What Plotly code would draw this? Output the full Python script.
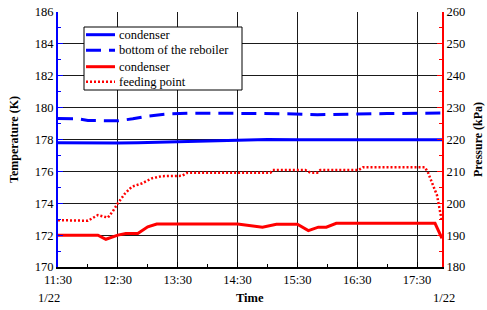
import plotly.graph_objects as go

DAY = "2024-01-22 "

# Blue: temperatures (left axis, K)
t_cond = ["11:30", "11:50", "12:10", "12:30", "12:50", "13:10", "13:30", "14:00", "14:30",
          "15:00", "15:30", "16:00", "16:30", "17:00", "17:30", "17:55"]
temp_cond = [177.80, 177.78, 177.77, 177.78, 177.80, 177.83, 177.88, 177.93, 177.97,
             178.00, 177.98, 177.97, 177.97, 177.98, 177.99, 177.98]

t_reb = ["11:30", "11:50", "12:00", "12:20", "12:30", "12:45", "13:00", "13:20", "13:40",
         "14:30", "15:20", "15:50", "16:20", "17:00", "17:55"]
temp_reb = [179.32, 179.30, 179.20, 179.18, 179.17, 179.30, 179.47, 179.60, 179.64,
            179.64, 179.62, 179.56, 179.60, 179.63, 179.66]

# Red: pressures (right axis, kPa)
t_pcond = ["11:30", "12:10", "12:18", "12:30", "12:38", "12:50", "13:00", "13:09", "13:30",
           "14:30", "14:55", "15:09", "15:30", "15:41", "15:51", "15:59", "16:09", "17:00",
           "17:48", "17:55"]
p_cond = [190.0, 190.0, 188.7, 190.0, 190.5, 190.5, 192.6, 193.5, 193.5,
          193.5, 192.5, 193.4, 193.4, 191.4, 192.5, 192.5, 193.7, 193.7,
          193.7, 189.0]

t_feed = ["11:30", "12:00", "12:10", "12:20", "12:25", "12:30", "12:37", "12:44", "12:54",
          "13:04", "13:14", "13:34", "13:40", "15:03", "15:05", "15:38", "15:43", "15:50",
          "15:53", "16:31", "16:36", "17:38", "17:41", "17:45", "17:50", "17:55"]
p_feed = [194.7, 194.5, 196.3, 195.5, 197.5, 200.0, 203.0, 205.2, 206.2,
          207.8, 208.5, 208.6, 209.6, 209.6, 210.4, 210.4, 209.6, 209.6,
          210.4, 210.4, 211.3, 211.3, 209.6, 206.2, 202.5, 194.2]

legend_names = ["condenser", "bottom of the reboiler", "condenser", "feeding point"]

SERIF = "Liberation Serif"
BLUE, RED = "#0000ff", "#ff0000"
styles = [
    dict(color=BLUE, width=3),
    dict(color=BLUE, width=3, dash="15px,8px"),
    dict(color=RED, width=3),
    dict(color=RED, width=2.5, dash="2px,2px"),
]

fig = go.Figure()
fig.add_trace(go.Scatter(x=[DAY + t for t in t_cond], y=temp_cond, mode="lines",
                         name=legend_names[0], line=styles[0]))
fig.add_trace(go.Scatter(x=[DAY + t for t in t_reb], y=temp_reb, mode="lines",
                         name=legend_names[1], line=styles[1]))
fig.add_trace(go.Scatter(x=[DAY + t for t in t_pcond], y=p_cond, mode="lines", yaxis="y2",
                         name=legend_names[2], line=styles[2]))
fig.add_trace(go.Scatter(x=[DAY + t for t in t_feed], y=p_feed, mode="lines", yaxis="y2",
                         name=legend_names[3], line=styles[3]))

# Compact legend box (drawn in paper coordinates)
PL, PR, PT, PB = 58, 442, 12, 267
def px(x):
    return (x - PL) / (PR - PL)
def py(y):
    return (PB - y) / (PB - PT)

shapes = [dict(type="rect", xref="paper", yref="paper", x0=px(84), x1=px(242),
               y0=py(90), y1=py(27), line=dict(color="black", width=1),
               fillcolor="white", layer="above")]
annotations = []
row_y = [34.7, 50.2, 66.7, 81.7]
for name, st, ry in zip(legend_names, styles, row_y):
    shapes.append(dict(type="line", xref="paper", yref="paper", x0=px(86), x1=px(115),
                       y0=py(ry), y1=py(ry), line=st, layer="above"))
    annotations.append(dict(text=name, xref="paper", yref="paper", x=px(117), y=py(ry),
                            xanchor="left", yanchor="middle", showarrow=False,
                            font=dict(family=SERIF, size=12.5)))

annotations += [
    dict(text="1/22", xref="paper", yref="paper", x=px(49), y=0, yshift=-31,
         xanchor="center", yanchor="middle", showarrow=False,
         font=dict(family=SERIF, size=12.5)),
    dict(text="1/22", xref="paper", yref="paper", x=px(444), y=0, yshift=-31,
         xanchor="center", yanchor="middle", showarrow=False,
         font=dict(family=SERIF, size=12.5)),
    dict(text="<b>Time</b>", xref="paper", yref="paper", x=0.5, y=0, yshift=-31,
         xanchor="center", yanchor="middle", showarrow=False,
         font=dict(family=SERIF, size=12.5)),
]

fig.update_layout(
    width=487, height=310,
    margin=dict(l=58, r=45, t=12, b=43, pad=0, autoexpand=False),
    plot_bgcolor="white", paper_bgcolor="white",
    font=dict(family=SERIF, size=12, color="black"),
    showlegend=False,
    xaxis=dict(
        type="date", range=[DAY + "11:30", DAY + "17:55"], automargin=False,
        tickformat="%H:%M", dtick=3600000, tick0=DAY + "11:30",
        showgrid=True, gridcolor="#1a1a1a", gridwidth=1,
        ticks="inside", ticklen=5, tickcolor="black",
        minor=dict(dtick=1800000, ticks="inside", ticklen=3, tickcolor="black", showgrid=False),
        showline=True, linecolor="black", linewidth=2,
        tickfont=dict(family=SERIF, size=12.5), zeroline=False,
    ),
    yaxis=dict(
        range=[170, 186], dtick=2, showgrid=True, gridcolor="#1a1a1a", gridwidth=1,
        automargin=False,
        ticks="inside", ticklen=5, tickcolor=BLUE,
        minor=dict(dtick=1, ticks="inside", ticklen=3, tickcolor=BLUE, showgrid=False),
        showline=True, linecolor=BLUE, linewidth=2, zeroline=False,
        tickfont=dict(family=SERIF, size=12.5),
        title=dict(text="<b>Temperature (K)</b>", font=dict(family=SERIF, size=12), standoff=14),
    ),
    yaxis2=dict(
        range=[180, 260], dtick=10, overlaying="y", side="right", showgrid=False,
        automargin=False,
        ticks="inside", ticklen=5, tickcolor=RED,
        minor=dict(dtick=5, ticks="inside", ticklen=3, tickcolor=RED, showgrid=False),
        showline=True, linecolor=RED, linewidth=2, zeroline=False,
        tickfont=dict(family=SERIF, size=12.5),
        title=dict(text="<b>Pressure (kPa)</b>", font=dict(family=SERIF, size=12), standoff=9),
    ),
    shapes=shapes,
    annotations=annotations,
)

fig.write_html("out.html", config={"displayModeBar": False},
               post_script="document.body.style.margin='0';")
